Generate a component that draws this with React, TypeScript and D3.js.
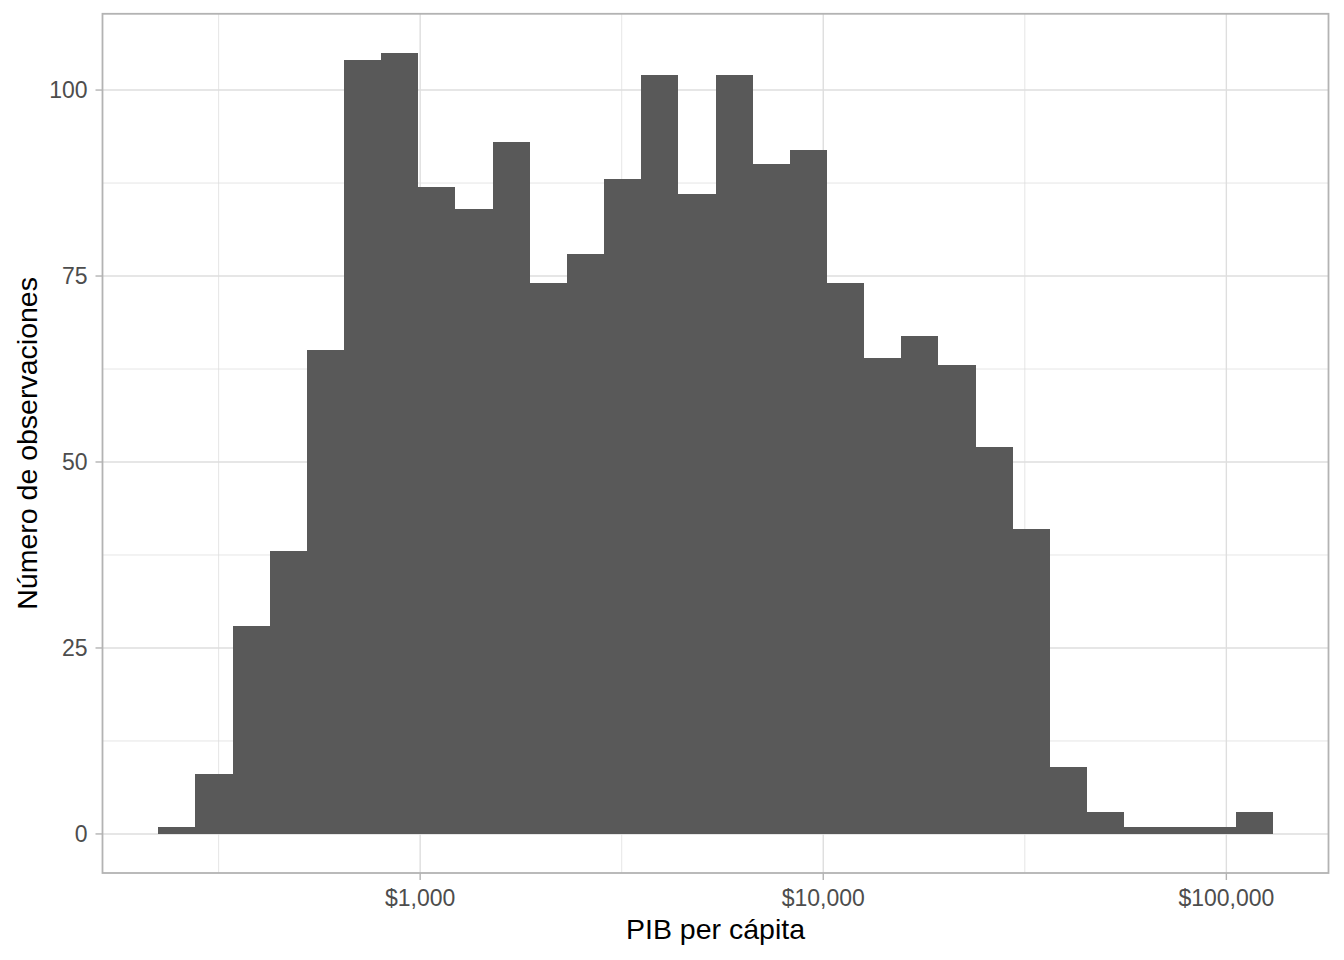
import React from "react";
import * as d3 from "d3";

// Histogram of GDP per capita (log10 scale), 30 bins
const counts: number[] = [
  1, 8, 28, 38, 65, 104, 105, 87, 84, 93, 74, 78, 88, 102, 86, 102, 90, 92, 74,
  64, 67, 63, 52, 41, 9, 3, 1, 1, 1, 3,
];
const logBinOrigin = 2.3502; // log10 of lower edge of first bin
const logBinWidth = 0.092165; // bin width in log10 units
const xTickValues: number[] = [1000, 10000, 100000];
const xMinorLog: number[] = [2.5, 3.5, 4.5];
const yTickValues: number[] = [0, 25, 50, 75, 100];
const yMinorValues: number[] = [12.5, 37.5, 62.5, 87.5];
const xTitle = "PIB per cápita";
const yTitle = "Número de observaciones";

const W = 1344;
const H = 960;
const panel = { left: 102.5, right: 1328.5, top: 13.8, bottom: 873 };
const FONT = "'Liberation Sans', Arial, Helvetica, sans-serif";

export default function App() {
  React.useEffect(() => {
    document.body.style.margin = "0";
  }, []);

  const bins = counts.map((c, i) => ({
    x0: Math.pow(10, logBinOrigin + i * logBinWidth),
    x1: Math.pow(10, logBinOrigin + (i + 1) * logBinWidth),
    count: c,
  }));
  const loLog = logBinOrigin;
  const hiLog = logBinOrigin + counts.length * logBinWidth;
  const xPad = (hiLog - loLog) * 0.05;
  const x = d3
    .scaleLog()
    .domain([Math.pow(10, loLog - xPad), Math.pow(10, hiLog + xPad)])
    .range([panel.left, panel.right]);

  const yMax = d3.max(counts) as number;
  const yPad = yMax * 0.05;
  const y = d3
    .scaleLinear()
    .domain([-yPad, yMax + yPad])
    .range([panel.bottom, panel.top]);

  const fmt = d3.format("$,.0f");
  const gridColor = "#DEDEDE";
  const borderColor = "#B3B3B3";

  return (
    <svg width={W} height={H} style={{ display: "block" }} fontFamily={FONT}>
      <rect x={0} y={0} width={W} height={H} fill="#FFFFFF" />
      {/* minor grid */}
      {yMinorValues.map((v) => (
        <line
          key={"ym" + v}
          x1={panel.left}
          x2={panel.right}
          y1={y(v)}
          y2={y(v)}
          stroke={gridColor}
          strokeWidth={0.75}
        />
      ))}
      {xMinorLog.map((v) => (
        <line
          key={"xm" + v}
          x1={x(Math.pow(10, v))}
          x2={x(Math.pow(10, v))}
          y1={panel.top}
          y2={panel.bottom}
          stroke={gridColor}
          strokeWidth={0.75}
        />
      ))}
      {/* major grid */}
      {yTickValues.map((v) => (
        <line
          key={"yg" + v}
          x1={panel.left}
          x2={panel.right}
          y1={y(v)}
          y2={y(v)}
          stroke={gridColor}
          strokeWidth={1.4}
        />
      ))}
      {xTickValues.map((v) => (
        <line
          key={"xg" + v}
          x1={x(v)}
          x2={x(v)}
          y1={panel.top}
          y2={panel.bottom}
          stroke={gridColor}
          strokeWidth={1.4}
        />
      ))}
      {/* bars */}
      {bins.map((b, i) => (
        <rect
          key={"b" + i}
          x={x(b.x0)}
          width={x(b.x1) - x(b.x0)}
          y={y(b.count)}
          height={y(0) - y(b.count)}
          fill="#595959"
          shapeRendering="crispEdges"
        />
      ))}
      {/* panel border */}
      <rect
        x={panel.left}
        y={panel.top}
        width={panel.right - panel.left}
        height={panel.bottom - panel.top}
        fill="none"
        stroke={borderColor}
        strokeWidth={1.8}
      />
      {/* x axis ticks and labels */}
      {xTickValues.map((v) => (
        <g key={"xt" + v}>
          <line
            x1={x(v)}
            x2={x(v)}
            y1={panel.bottom}
            y2={panel.bottom + 7}
            stroke={borderColor}
            strokeWidth={1.4}
          />
          <text
            x={x(v)}
            y={906}
            textAnchor="middle"
            fontSize={23}
            fill="#4D4D4D"
          >
            {fmt(v)}
          </text>
        </g>
      ))}
      {/* y axis ticks and labels */}
      {yTickValues.map((v) => (
        <g key={"yt" + v}>
          <line
            x1={panel.left - 7}
            x2={panel.left}
            y1={y(v)}
            y2={y(v)}
            stroke={borderColor}
            strokeWidth={1.4}
          />
          <text
            x={87.5}
            y={y(v)}
            dy="0.36em"
            textAnchor="end"
            fontSize={23}
            fill="#4D4D4D"
          >
            {v}
          </text>
        </g>
      ))}
      {/* axis titles */}
      <text
        x={(panel.left + panel.right) / 2}
        y={939}
        textAnchor="middle"
        fontSize={28.5}
        fill="#000000"
      >
        {xTitle}
      </text>
      <text
        transform={`translate(37,${(panel.top + panel.bottom) / 2}) rotate(-90)`}
        textAnchor="middle"
        fontSize={28.5}
        fill="#000000"
      >
        {yTitle}
      </text>
    </svg>
  );
}
